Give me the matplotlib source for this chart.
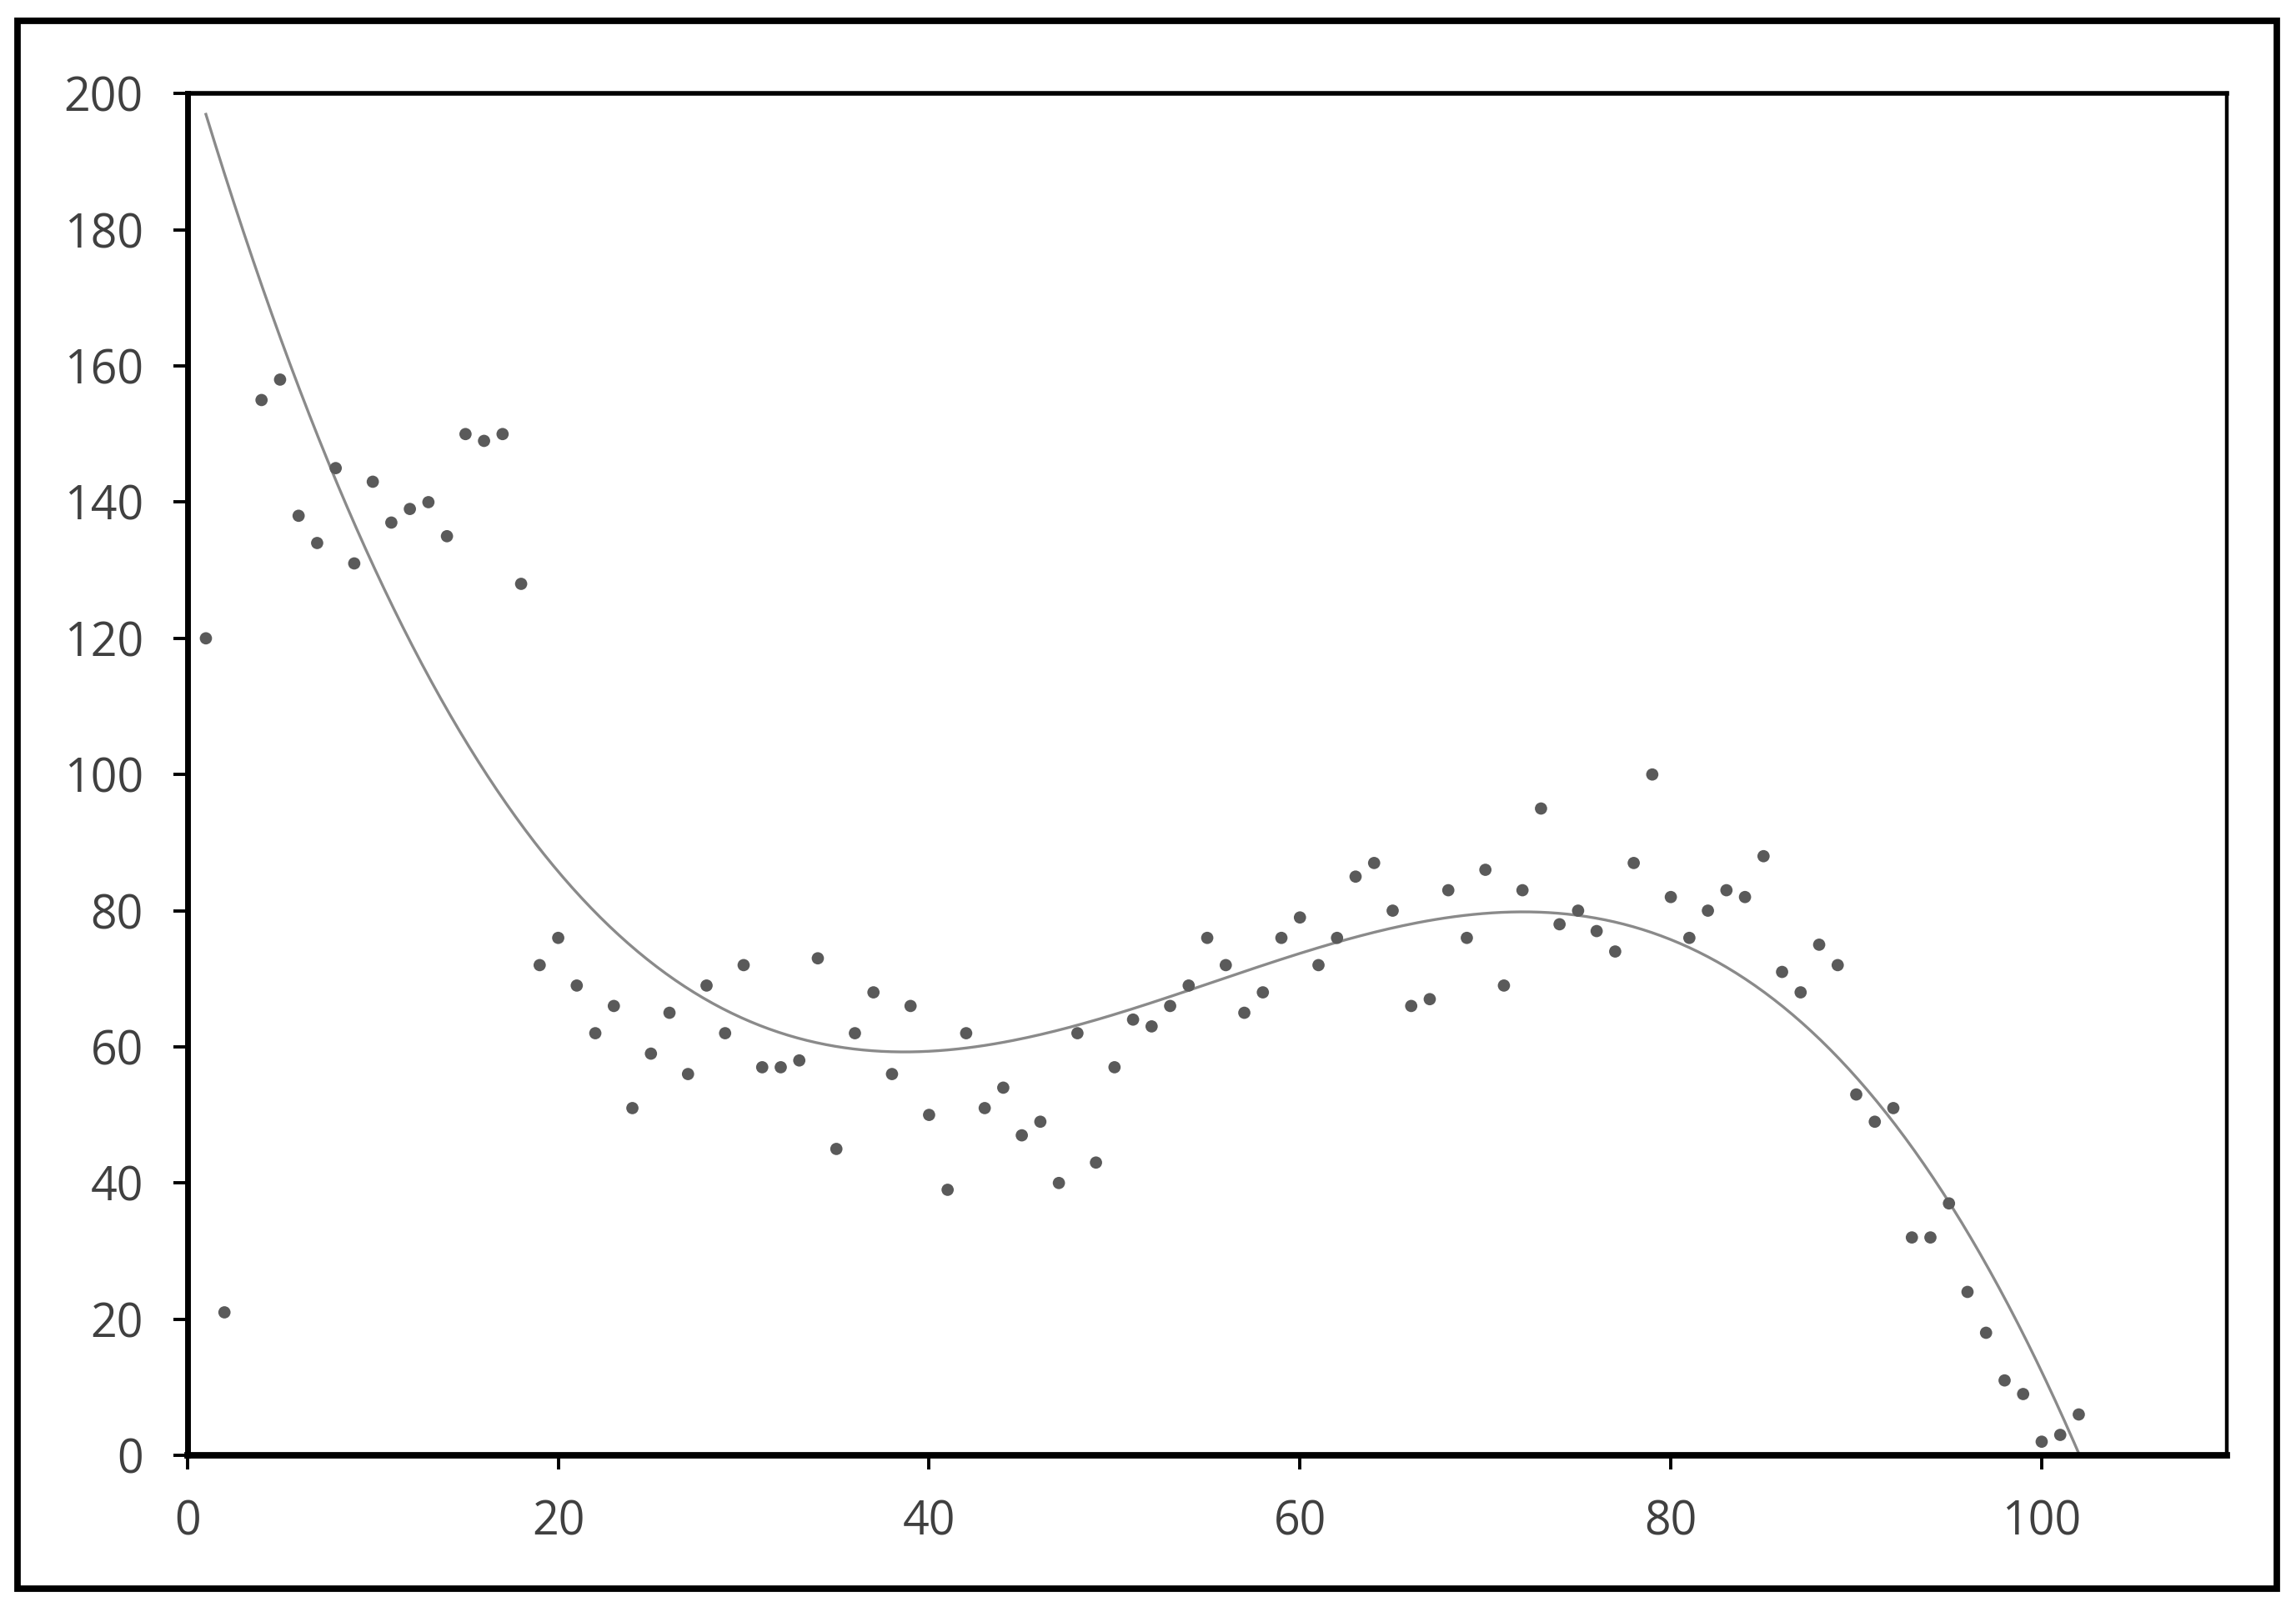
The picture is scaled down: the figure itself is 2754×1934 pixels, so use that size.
import numpy as np
import matplotlib
matplotlib.use("Agg")
import matplotlib.pyplot as plt
from matplotlib.patches import Rectangle

plt.rcParams["font.family"] = ["Open Sans", "DejaVu Sans"]

x_vals = [1, 2, 4, 5, 6, 7, 8, 9, 10, 11, 12, 13, 14, 15, 16, 17, 18, 19, 20,
          21, 22, 23, 24, 25, 26, 27, 28, 29, 30, 31, 32, 33, 34, 35, 36, 37, 38, 39, 40,
          41, 42, 43, 44, 45, 46, 47, 48, 49, 50, 51, 52, 53, 54, 55, 56, 57, 58, 59, 60,
          61, 62, 63, 64, 65, 66, 67, 68, 69, 70, 71, 72, 73, 74, 75, 76, 77, 78, 79, 80,
          81, 82, 83, 84, 85, 86, 87, 88, 89, 90, 91, 92, 93, 94, 95, 96, 97, 98, 99, 100,
          101, 102]
y_vals = [120, 21, 155, 158, 138, 134, 145, 131, 143, 137, 139, 140, 135, 150, 149, 150, 128, 72, 76,
          69, 62, 66, 51, 59, 65, 56, 69, 62, 72, 57, 57, 58, 73, 45, 62, 68, 56, 66, 50,
          39, 62, 51, 54, 47, 49, 40, 62, 43, 57, 64, 63, 66, 69, 76, 72, 65, 68, 76, 79,
          72, 76, 85, 87, 80, 66, 67, 83, 76, 86, 69, 83, 95, 78, 80, 77, 74, 87, 100, 82,
          76, 80, 83, 82, 88, 71, 68, 75, 72, 53, 49, 51, 32, 32, 37, 24, 18, 11, 9, 2,
          3, 6]

# trend line (a cubic in the original)
trend_x = [1, 4.9, 7.9, 15.2, 20.1, 27.7, 38.7, 48.2, 54.2, 62.2, 72, 80.8, 86.4, 91.5, 95.05, 102]
trend_y = [196.6, 164.8, 145, 104, 85.2, 66.8, 59.1, 63.4, 68.9, 75.8, 79.7, 75.0, 65.2, 49.7, 37.05, 0.7]

x_ticks = [0, 20, 40, 60, 80, 100]
y_ticks = [0, 20, 40, 60, 80, 100, 120, 140, 160, 180, 200]

coef = np.polyfit(trend_x, trend_y, 3)
xt = np.linspace(trend_x[0], trend_x[-1], 400)
yt = np.polyval(coef, xt)

fig = plt.figure(figsize=(13.77, 9.67), dpi=200)
ax = fig.add_axes([0.0816, 0.0972, 0.8884, 0.8447])

ax.plot(xt, yt, color="#8a8a8a", linewidth=1.2, zorder=2)
ax.scatter(x_vals, y_vals, s=28, color="#5a5a5a", edgecolors="none", zorder=3)

ax.set_xlim(0, 110)
ax.set_ylim(0, 200)
ax.set_xticks(x_ticks)
ax.set_yticks(y_ticks)
ax.tick_params(direction="out", length=6, width=1.4, colors="black",
               labelsize=20, labelcolor="#404040", pad=13)

ax.spines["right"].set_linewidth(1.6)
ax.spines["top"].set_linewidth(2.0)
ax.spines["left"].set_linewidth(2.5)
ax.spines["bottom"].set_linewidth(2.8)

# black frame round the whole picture
fig.patches.append(Rectangle((0.0077, 0.0145), 0.984, 0.9728, transform=fig.transFigure,
                             fill=False, edgecolor="black", linewidth=2.8))

fig.savefig("out.png", dpi=200)
